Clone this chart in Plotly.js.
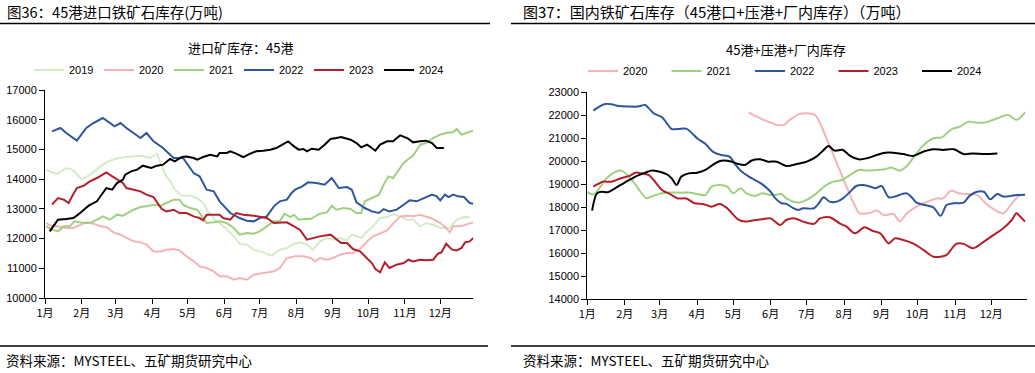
<!DOCTYPE html>
<html><head><meta charset="utf-8">
<script src="https://cdn.plot.ly/plotly-3.0.1.min.js"></script>
<style>html,body{margin:0;padding:0;background:#fff}#c{width:1035px;height:373px}</style>
</head><body><div id="c"></div>
<script>
// tick labels (x = day of year)
const monthTicks = [0,31,60,91,121,152,182,213,244,274,305,335];
const monthLabels = ["1月","2月","3月","4月","5月","6月","7月","8月","9月","10月","11月","12月"];

// ---- Left: 进口矿库存：45港 ----
const L2019_d = [1,7,11,18,23,27,31,35,41,47,52,59,66,75,81,89,95,98,102,106,110,116,123,129,134,138,144,148,154,160,165,171,177,185,192,199,205,211,216,222,227,233,239,244,250,256,260,264,268,273,278,284,290,295,301,307,312,318,323,329,335,343,349,355,360];
const L2019_v = [14319,14206,14184,14375,14319,14150,14004,14060,14262,14431,14565,14677,14734,14767,14790,14711,14857,14543,14150,13926,13645,13443,13443,13365,13196,12916,12635,12523,12299,12074,11828,11794,11626,11536,11424,11626,11682,11828,11872,11794,11626,11906,12018,11962,12018,11929,12131,12074,12018,12243,12411,12691,12725,12826,12748,12635,12635,12411,12523,12467,12355,12355,12635,12725,12714];
const L2020_d = [1,6,11,18,24,30,35,41,47,52,58,64,69,75,81,86,92,98,103,109,114,120,126,131,137,143,148,154,160,165,171,177,185,194,199,205,212,219,225,229,233,239,244,250,256,261,267,273,278,284,290,295,301,307,312,318,323,329,335,340,343,346,352,357,363];
const L2020_v = [12523,12411,12411,12355,12355,12467,12546,12501,12411,12389,12209,12131,12018,11906,11872,11794,11569,11569,11626,11648,11603,11401,11233,11065,11009,10896,10728,10728,10616,10672,10616,10784,10840,10896,11009,11345,11401,11401,11345,11233,11345,11289,11345,11457,11513,11513,11648,11906,12074,12187,12276,12501,12748,12770,12748,12804,12748,12658,12523,12355,12209,12411,12411,12467,12546];
const L2021_d = [1,6,11,16,21,25,33,38,44,49,55,61,66,71,75,81,86,92,98,103,109,114,117,123,129,133,137,143,148,154,160,165,171,177,182,188,194,199,203,208,211,215,219,225,229,233,239,243,247,253,259,264,268,271,277,283,287,291,295,299,304,308,312,318,323,329,335,340,346,349,353,357,363];
const L2021_v = [12411,12299,12243,12411,12411,12579,12523,12523,12635,12748,12635,12804,12770,12882,12972,13062,13084,13140,13107,13196,13309,13309,13140,13028,12972,12748,12523,12546,12579,12523,12355,12131,12187,12164,12243,12411,12579,12579,12837,12725,12804,12635,12658,12658,12748,12837,12882,13107,12972,13028,12994,12860,12860,13253,13365,13477,13813,14094,14038,14262,14543,14677,14790,15160,15216,15384,15497,15553,15587,15687,15497,15553,15632];
const L2022_d = [6,13,18,27,35,41,49,59,64,69,75,81,86,92,100,109,117,126,131,137,143,148,157,165,171,177,182,188,194,199,205,209,212,218,223,230,237,243,249,256,260,264,271,277,283,287,292,298,304,309,315,321,328,332,335,339,342,346,350,355,360,363];
const L2022_v = [15609,15721,15553,15295,15721,15889,16057,15777,15889,15721,15553,15384,15553,15272,15048,14711,14711,14206,14094,13645,13589,13253,12860,12691,12600,12579,12691,12748,13084,13253,13309,13533,13645,13757,13892,13870,13813,14038,13701,13735,13645,13219,13028,12916,12860,12994,12916,12972,13140,13286,13253,13365,13477,13421,13286,13477,13398,13477,13421,13398,13196,13174];
const L2023_d = [6,11,16,20,23,27,33,38,44,49,52,57,61,66,69,75,81,86,92,95,99,103,109,114,120,126,131,134,137,143,148,151,157,162,168,177,182,188,194,199,205,211,216,222,227,233,242,247,251,256,261,267,271,277,280,284,288,292,298,304,308,312,318,323,329,333,336,340,345,349,353,356,360,363];
const L2023_v = [13140,13365,13309,13196,13421,13701,13780,13926,14038,14150,14229,14094,13982,13870,13701,13645,13589,13477,13398,13219,12994,12916,12972,12860,12860,12748,12691,12613,12804,12804,12804,12691,12635,12860,12804,12770,12725,12691,12523,12523,12546,12411,12299,11962,12018,12074,12131,11962,11850,11850,11648,11569,11401,11177,10975,10863,11199,11009,11121,11177,11289,11233,11289,11267,11289,11491,11536,11828,11626,11603,11682,11872,11906,12018];
const L2024_d = [4,11,18,24,28,33,37,44,49,52,57,61,66,68,73,78,83,90,95,100,106,110,116,120,126,129,134,140,146,148,154,157,162,168,174,179,185,191,196,201,206,211,215,219,222,226,232,237,242,247,251,259,264,268,273,277,280,284,290,295,301,307,312,318,323,328,332,338];
const L2024_v = [12243,12635,12658,12691,12804,12972,13107,13253,13533,13701,13645,13870,13982,14150,14262,14319,14453,14375,14453,14487,14677,14599,14745,14760,14711,14654,14745,14823,14767,14879,14879,14936,14857,14740,14857,14936,14958,14992,15048,15160,15272,15104,14992,15014,14936,15025,14992,15160,15351,15384,15418,15328,15216,15070,15160,15048,14958,15160,15272,15272,15474,15384,15238,15272,15295,15216,15048,15048];

// ---- Right: 45港+压港+厂内库存 ----
const R2020_d = [134,140,146,152,157,163,168,175,182,189,193,199,207,215,222,226,235,240,246,254,259,265,273,282,290,295,302,308,315,323,331,338,345,351,358,363];
const R2020_v = [22130,21950,21800,21680,21580,21580,21800,22040,22090,22010,21650,20920,19910,18890,18050,17730,17760,17850,17660,17700,17370,17730,18020,18240,18380,18380,18720,18600,18570,18530,18140,17880,17730,18090,18490,18540];
const R2021_d = [0,5,11,16,28,38,49,53,62,70,78,84,91,98,103,110,116,121,127,132,139,145,152,156,161,165,175,182,190,197,204,211,218,225,232,240,247,252,259,265,272,279,287,294,302,309,316,322,329,335,342,349,356,363];
const R2021_v = [18650,18550,18890,19260,19590,19110,18390,18460,18600,18640,18630,18640,18570,18530,18890,18960,18890,18600,18820,18600,18490,18600,18530,18530,18570,18380,18200,18320,18600,18920,19110,19180,19400,19620,19590,19620,19650,19730,19590,19790,20270,20710,21000,21040,21390,21500,21720,21680,21680,21770,21910,22010,21800,22130];
const R2022_d = [5,10,15,20,26,34,42,48,51,55,62,66,70,75,82,87,91,98,104,111,118,122,128,134,139,146,152,156,161,165,171,175,179,188,192,196,201,207,212,218,223,229,235,239,244,250,255,259,265,269,273,280,287,293,298,304,312,317,323,329,334,340,345,351,356,363];
const R2022_v = [22200,22380,22490,22480,22400,22380,22380,22450,22300,22090,21910,21650,21400,21400,21420,21210,21000,20750,20420,20270,20200,19910,19550,19330,19180,18960,18670,18380,18170,18140,17950,17880,17950,17950,18170,18430,18240,18240,18380,18670,18920,18960,18890,18820,18920,18430,18460,18530,18600,18430,18200,18090,17990,17620,18090,18170,18200,18490,18670,18670,18340,18570,18460,18490,18530,18540];
const R2023_d = [5,9,13,20,28,35,40,45,51,55,62,69,75,82,89,96,103,110,116,120,125,131,136,145,152,160,165,172,179,188,193,201,210,215,222,230,236,243,250,255,262,270,279,287,293,298,306,312,320,329,337,345,352,356,359,363];
const R2023_v = [18890,19010,19110,19110,19260,19360,19500,19470,19390,19180,18750,18560,18380,18380,18170,18140,18020,18140,17950,17730,17470,17370,17410,17470,17510,17220,17440,17510,17370,17270,17510,17560,17270,17150,16860,17120,16980,16860,16420,16640,16570,16420,16130,15840,15840,15920,16400,16400,16210,16500,16790,17080,17440,17730,17590,17370];
const R2024_d = [4,8,12,17,23,31,40,48,53,59,67,71,74,78,84,91,98,106,111,120,125,131,136,143,150,157,165,174,182,190,196,200,205,212,218,225,232,240,247,254,262,270,279,287,295,304,312,320,329,340];
const R2024_v = [17850,18600,18670,18650,18820,19070,19330,19500,19590,19550,19400,19180,18960,19330,19470,19500,19620,19910,20020,19980,19880,19840,20020,20080,19980,19980,19790,19880,19980,20200,20490,20660,20460,20490,20230,20080,20130,20270,20370,20370,20310,20230,20420,20520,20490,20520,20310,20340,20310,20340];

const COLORS = {"2019":"#d4ebc8","2020":"#f4b3b6","2021":"#9fd07f","2022":"#2e569f","2023":"#b4202a","2024":"#000000"};

const W = 1035, H = 373;
const px = x => x / W, py = y => (H - y) / H;
const FONT = '"Liberation Sans", Arial, "Noto Sans CJK SC", sans-serif';
const CJK = '"Noto Sans CJK SC", "Liberation Sans", sans-serif';

const traces = [];
function add(x, y, name, xa, ya, leg, shape) {
  traces.push({type:'scatter', mode:'lines', x:x, y:y, name:name, xaxis:xa, yaxis:ya,
    legend:leg, line:{color:COLORS[name], width:2, shape:shape, smoothing:0.9}, hoverinfo:'skip'});
}
add(L2019_d, L2019_v, "2019", 'x', 'y', 'legend', 'linear');
add(L2020_d, L2020_v, "2020", 'x', 'y', 'legend', 'linear');
add(L2021_d, L2021_v, "2021", 'x', 'y', 'legend', 'linear');
add(L2022_d, L2022_v, "2022", 'x', 'y', 'legend', 'linear');
add(L2023_d, L2023_v, "2023", 'x', 'y', 'legend', 'linear');
add(L2024_d, L2024_v, "2024", 'x', 'y', 'legend', 'linear');
add(R2020_d, R2020_v, "2020", 'x2', 'y2', 'legend2', 'spline');
add(R2021_d, R2021_v, "2021", 'x2', 'y2', 'legend2', 'spline');
add(R2022_d, R2022_v, "2022", 'x2', 'y2', 'legend2', 'spline');
add(R2023_d, R2023_v, "2023", 'x2', 'y2', 'legend2', 'spline');
add(R2024_d, R2024_v, "2024", 'x2', 'y2', 'legend2', 'spline');

const ax = {showline:true, linecolor:'#000', linewidth:1, ticks:'outside', ticklen:5, tickwidth:1,
  tickcolor:'#000', showgrid:false, zeroline:false, fixedrange:true, automargin:false,
  tickfont:{size:11, color:'#000', family:CJK}};
const xL = Object.assign({}, ax, {domain:[px(45), px(473.3)], range:[0,363], tickmode:'array',
  tickvals:monthTicks, ticktext:monthLabels, anchor:'y', tickangle:0});
const yL = Object.assign({}, ax, {domain:[py(298), py(90)], range:[10000,17000], dtick:1000,
  tickformat:'d', anchor:'x', tickfont:{size:11, color:'#000', family:FONT}});
const xR = Object.assign({}, ax, {domain:[px(587.3), px(1026.7)], range:[0,364.4], tickmode:'array',
  tickvals:monthTicks, ticktext:monthLabels, anchor:'y2', tickangle:0});
const yR = Object.assign({}, ax, {domain:[py(299), py(92.3)], range:[14000,23000], dtick:1000,
  tickformat:'d', anchor:'x2', tickfont:{size:11, color:'#000', family:FONT}});

function ann(text, x, y, size, xanchor) {
  return {text:text, x:px(x), y:py(y), xref:'paper', yref:'paper', xanchor:xanchor, yanchor:'middle',
    showarrow:false, font:{size:size, color:'#000', family:CJK}};
}
function hline(x0, x1, y) {
  return {type:'line', xref:'paper', yref:'paper', x0:px(x0), x1:px(x1), y0:py(y), y1:py(y),
    line:{color:'#000', width:1.5}};
}

const layout = {
  width:W, height:H, margin:{l:0, r:0, t:0, b:0, autoexpand:false}, paper_bgcolor:'#fff', plot_bgcolor:'#fff',
  showlegend:true, hovermode:false,
  xaxis:xL, yaxis:yL, xaxis2:xR, yaxis2:yR,
  legend:{orientation:'h', x:px(29), xanchor:'left', y:py(70), yanchor:'middle',
    entrywidth:25, entrywidthmode:'pixels', font:{size:11, color:'#000', family:FONT},
    bgcolor:'rgba(0,0,0,0)', traceorder:'normal'},
  legend2:{orientation:'h', x:px(583), xanchor:'left', y:py(71), yanchor:'middle',
    entrywidth:38.5, entrywidthmode:'pixels', font:{size:11, color:'#000', family:FONT},
    bgcolor:'rgba(0,0,0,0)', traceorder:'normal'},
  annotations:[
    ann('图36：45港进口铁矿石库存(万吨)', 5, 11, 14.5, 'left'),
    ann('图37：国内铁矿石库存（45港口+压港+厂内库存）（万吨）', 521, 11, 15, 'left'),
    ann('进口矿库存：45港', 240, 48, 13, 'center'),
    ann('45港+压港+厂内库存', 786, 50, 13, 'center'),
    ann('资料来源：MYSTEEL、五矿期货研究中心', 4, 360, 13.5, 'left'),
    ann('资料来源：MYSTEEL、五矿期货研究中心', 521, 360, 13.5, 'left')
  ],
  shapes:[hline(0,490,23.5), hline(511,1035,23.5), hline(0,488,346), hline(511,1035,346)]
};

Plotly.newPlot('c', traces, layout, {staticPlot:true, displayModeBar:false});
</script></body></html>
